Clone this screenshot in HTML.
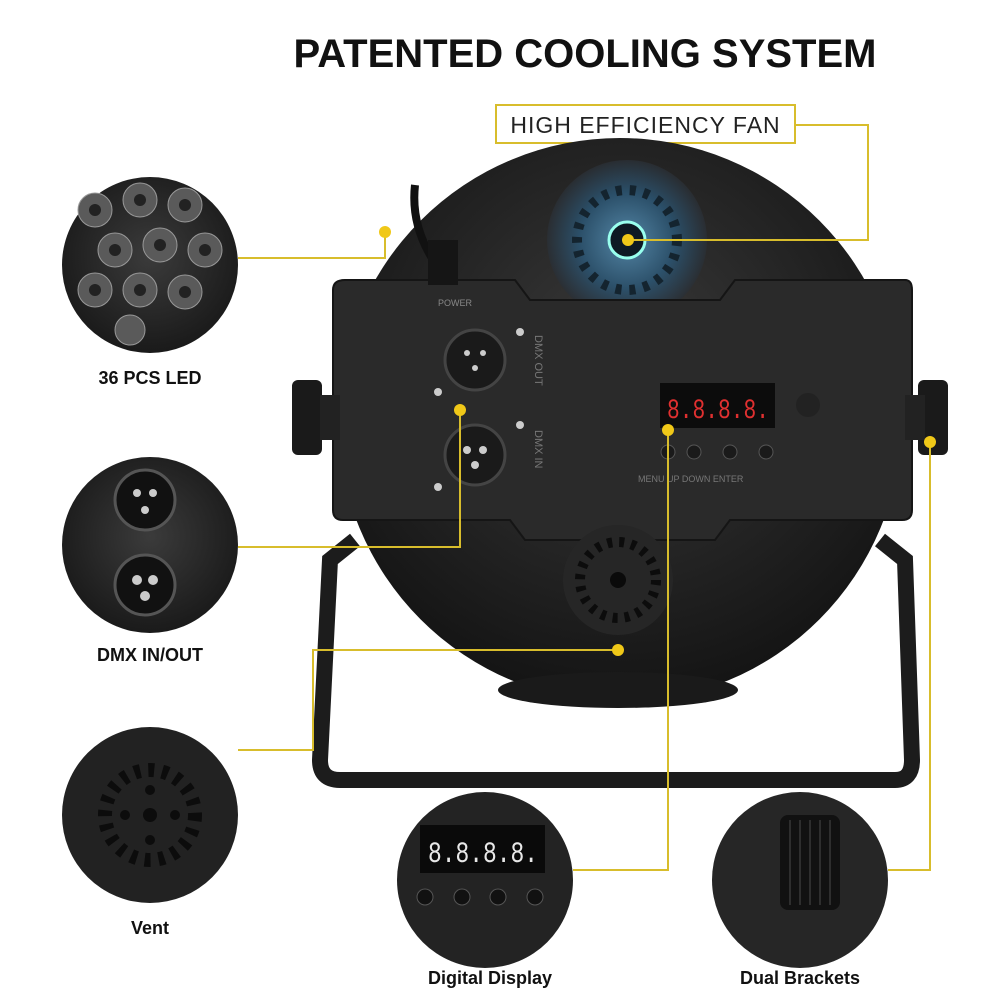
<!DOCTYPE html>
<html><head><meta charset="utf-8"><style>
body{margin:0;background:#fff;width:1000px;height:1000px;overflow:hidden;font-family:"Liberation Sans",sans-serif}
.lbl{position:absolute;font-weight:bold;font-size:18px;color:#111;text-align:center;width:240px}
</style></head><body>
<div style="position:absolute;left:250px;top:32px;width:670px;text-align:center;font-weight:900;font-size:40px;color:#111">PATENTED COOLING SYSTEM</div>
<div style="position:absolute;left:495px;top:104px;width:301px;height:40px;border:2px solid #d8bd2c;box-sizing:border-box;font-size:23px;line-height:38px;text-align:center;color:#222;letter-spacing:1px">HIGH EFFICIENCY FAN</div>
<svg width="1000" height="1000" style="position:absolute;left:0;top:0">
<defs>
<radialGradient id="g" cx="50%" cy="40%" r="60%"><stop offset="0" stop-color="#3a3a3a"/><stop offset="1" stop-color="#141414"/></radialGradient>
<radialGradient id="c" cx="50%" cy="45%" r="55%"><stop offset="0" stop-color="#3b3b3b"/><stop offset="1" stop-color="#1a1a1a"/></radialGradient>
<radialGradient id="fan" cx="50%" cy="50%" r="50%"><stop offset="0" stop-color="#5d9cc4"/><stop offset="0.6" stop-color="#2b5878"/><stop offset="1" stop-color="#2a2f35"/></radialGradient>
</defs>
<path d="M355 540 L330 560 L320 760 Q320 780 340 780 L895 780 Q912 780 912 760 L905 560 L880 540" fill="none" stroke="#1c1c1c" stroke-width="16"/>
<circle cx="620" cy="420" r="282" fill="url(#g)"/>
<ellipse cx="618" cy="690" rx="120" ry="18" fill="#1a1a1a"/>
<circle cx="627" cy="240" r="80" fill="url(#fan)" opacity="0.8"/>
<circle cx="627" cy="240" r="50" fill="none" stroke="#14242f" stroke-width="10" stroke-dasharray="6 8"/>
<circle cx="627" cy="240" r="18" fill="#0e1a24" stroke="#9fe" stroke-width="3"/>
<path d="M345 280 L515 280 L530 300 L720 300 L735 280 L905 280 Q912 280 912 290 L912 510 Q912 520 902 520 L730 520 L715 540 L525 540 L510 520 L343 520 Q333 520 333 510 L333 290 Q333 280 345 280Z" fill="#2a2a2a" stroke="#151515" stroke-width="2"/>
<rect x="292" y="380" width="30" height="75" rx="6" fill="#1a1a1a"/><rect x="320" y="395" width="20" height="45" fill="#222"/>
<rect x="918" y="380" width="30" height="75" rx="6" fill="#1a1a1a"/><rect x="905" y="395" width="20" height="45" fill="#222"/>
<path d="M415 185 Q410 230 440 270" stroke="#111" stroke-width="8" fill="none"/>
<rect x="428" y="240" width="30" height="45" fill="#151515"/>
<text x="438" y="306" font-size="9" fill="#888">POWER</text>
<circle cx="475" cy="360" r="30" fill="#1a1a1a" stroke="#444" stroke-width="3"/>
<circle cx="475" cy="455" r="30" fill="#1a1a1a" stroke="#444" stroke-width="3"/>
<g fill="#ccc"><circle cx="467" cy="353" r="3"/><circle cx="483" cy="353" r="3"/><circle cx="475" cy="368" r="3"/><circle cx="467" cy="450" r="4"/><circle cx="483" cy="450" r="4"/><circle cx="475" cy="465" r="4"/>
<circle cx="438" cy="392" r="4"/><circle cx="520" cy="332" r="4"/><circle cx="438" cy="487" r="4"/><circle cx="520" cy="425" r="4"/></g>
<text x="535" y="335" font-size="11" fill="#777" transform="rotate(90 535 335)">DMX OUT</text>
<text x="535" y="430" font-size="11" fill="#777" transform="rotate(90 535 430)">DMX IN</text>
<rect x="660" y="383" width="115" height="45" fill="#0c0c0c"/>
<text x="667" y="418" font-size="28" font-family="Liberation Mono" fill="#e03030" textLength="102" lengthAdjust="spacingAndGlyphs">8.8.8.8.</text>
<g fill="#1a1a1a" stroke="#555"><circle cx="668" cy="452" r="7"/><circle cx="694" cy="452" r="7"/><circle cx="730" cy="452" r="7"/><circle cx="766" cy="452" r="7"/></g>
<text x="638" y="482" font-size="9" fill="#777">MENU  UP  DOWN  ENTER</text>
<circle cx="808" cy="405" r="12" fill="#222"/>
<circle cx="618" cy="580" r="55" fill="#262626"/>
<circle cx="618" cy="580" r="38" fill="none" stroke="#0c0c0c" stroke-width="10" stroke-dasharray="5 7"/>
<circle cx="618" cy="580" r="8" fill="#0a0a0a"/>
<circle cx="150" cy="265" r="88" fill="url(#c)"/>
<g fill="#5a5a5a" stroke="#999">
<circle cx="95" cy="210" r="17"/><circle cx="140" cy="200" r="17"/><circle cx="185" cy="205" r="17"/><circle cx="115" cy="250" r="17"/><circle cx="160" cy="245" r="17"/><circle cx="205" cy="250" r="17"/><circle cx="95" cy="290" r="17"/><circle cx="140" cy="290" r="17"/><circle cx="185" cy="292" r="17"/><circle cx="130" cy="330" r="15"/></g>
<g fill="#222"><circle cx="95" cy="210" r="6"/><circle cx="140" cy="200" r="6"/><circle cx="185" cy="205" r="6"/><circle cx="115" cy="250" r="6"/><circle cx="160" cy="245" r="6"/><circle cx="205" cy="250" r="6"/><circle cx="95" cy="290" r="6"/><circle cx="140" cy="290" r="6"/><circle cx="185" cy="292" r="6"/></g>
<circle cx="150" cy="545" r="88" fill="url(#c)"/>
<circle cx="145" cy="500" r="30" fill="#111" stroke="#555" stroke-width="3"/>
<circle cx="145" cy="585" r="30" fill="#111" stroke="#555" stroke-width="3"/>
<g fill="#ccc"><circle cx="137" cy="493" r="4"/><circle cx="153" cy="493" r="4"/><circle cx="145" cy="510" r="4"/><circle cx="137" cy="580" r="5"/><circle cx="153" cy="580" r="5"/><circle cx="145" cy="596" r="5"/></g>
<circle cx="150" cy="815" r="88" fill="#222"/>
<circle cx="150" cy="815" r="45" fill="none" stroke="#0c0c0c" stroke-width="14" stroke-dasharray="6 8"/>
<g fill="#0c0c0c"><circle cx="150" cy="815" r="7"/><circle cx="150" cy="790" r="5"/><circle cx="150" cy="840" r="5"/><circle cx="125" cy="815" r="5"/><circle cx="175" cy="815" r="5"/></g>
<circle cx="485" cy="880" r="88" fill="#232323"/>
<rect x="420" y="825" width="125" height="48" fill="#0a0a0a"/>
<text x="428" y="862" font-size="30" font-family="Liberation Mono" fill="#e8e8e8" textLength="110" lengthAdjust="spacingAndGlyphs">8.8.8.8.</text>
<g fill="#111" stroke="#555"><circle cx="425" cy="897" r="8"/><circle cx="462" cy="897" r="8"/><circle cx="498" cy="897" r="8"/><circle cx="535" cy="897" r="8"/></g>
<circle cx="800" cy="880" r="88" fill="#262626"/>
<rect x="780" y="815" width="60" height="95" rx="8" fill="#111"/>
<g stroke="#2e2e2e" stroke-width="2"><line x1="790" y1="820" x2="790" y2="905"/><line x1="800" y1="820" x2="800" y2="905"/><line x1="810" y1="820" x2="810" y2="905"/><line x1="820" y1="820" x2="820" y2="905"/><line x1="830" y1="820" x2="830" y2="905"/></g>
<g stroke="#d8bd2c" stroke-width="2" fill="none">
<polyline points="796,125 868,125 868,240 630,240"/>
<polyline points="238,258 385,258 385,232"/>
<polyline points="238,547 460,547 460,410"/>
<polyline points="238,750 313,750 313,650 618,650"/>
<polyline points="573,870 668,870 668,430"/>
<polyline points="888,870 930,870 930,442"/>
</g>
<g fill="#f0c818"><circle cx="628" cy="240" r="6"/><circle cx="385" cy="232" r="6"/><circle cx="460" cy="410" r="6"/><circle cx="618" cy="650" r="6"/><circle cx="668" cy="430" r="6"/><circle cx="930" cy="442" r="6"/></g>
</svg>
<div class="lbl" style="left:30px;top:368px">36 PCS LED</div>
<div class="lbl" style="left:30px;top:645px">DMX IN/OUT</div>
<div class="lbl" style="left:30px;top:918px">Vent</div>
<div class="lbl" style="left:370px;top:968px">Digital Display</div>
<div class="lbl" style="left:680px;top:968px">Dual Brackets</div>
</body></html>
